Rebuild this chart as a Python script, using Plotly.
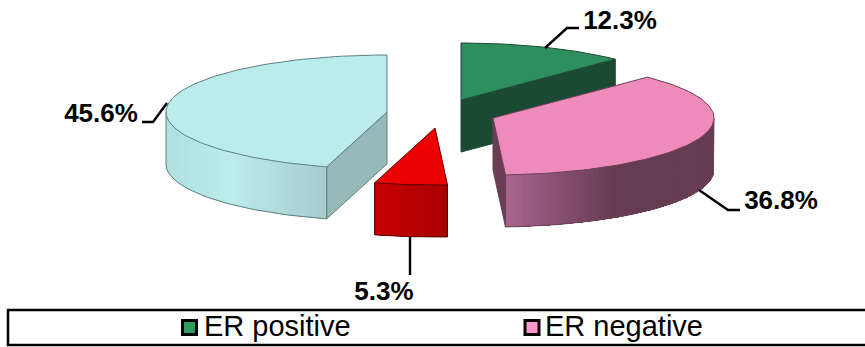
import numpy as np
import plotly.graph_objects as go

W, H = 865, 347

# Chart data
shares = [12.3, 36.8, 5.3, 45.6]
legend_names = ["ER positive", "ER negative"]
legend_colors = ["#2e9963", "#ff99cc"]
legend_marker_x = [189.5, 532]
legend_text_x = [204, 545]

# Pie geometry, in page pixels
RX, RY, DEPTH = 221, 57, 52
slice_centers = [(461, 100), (493, 118), (435, 128), (387, 112)]
slice_styles = [
    dict(top="#2e8f5e", edge="#1f4a36", cut="#1a4a32", xs=[0, 1], rim=["#1a4a32", "#1a4a32"]),
    dict(top="#ee8bbb", edge="#6b4058", cut="#6a3d55", xs=[0, 0.52, 1],
         rim=["#aa648c", "#663c52", "#663c52"]),
    dict(top="#ee0000", edge="#5a0000", cut="#aa0000", xs=[0, 1], rim=["#c80000", "#a80000"]),
    dict(top="#bbecec", edge="#5f7f80", cut="#97bab8", xs=[0, 0.4, 1],
         rim=["#aee0e0", "#bbecec", "#a6cccc"]),
]

# Leader lines and label anchors
leaders = [
    ([545, 567, 579], [48, 28, 28]),
    ([699, 728, 740], [190, 210, 210]),
    ([410, 410], [237, 275]),
    ([167, 153, 142], [103, 122, 122]),
]
label_positions = [(620, 22), (781, 202), (384, 293), (101, 115)]


def hex_rgb(c):
    return np.array([int(c[i:i + 2], 16) for i in (1, 3, 5)], float)


def blend(stops_x, stops_c, t):
    rgb = [np.interp(t, stops_x, [hex_rgb(c)[k] for c in stops_c]) for k in range(3)]
    return "rgb({:.0f},{:.0f},{:.0f})".format(*rgb)


def rim_point(center, deg):
    a = np.radians(deg)
    return center[0] + RX * np.sin(a), center[1] - RY * np.cos(a)


def poly(fig, xs, ys, fill, line=None, width=1):
    fig.add_trace(go.Scatter(
        x=list(xs), y=list(ys), mode="lines", fill="toself", fillcolor=fill,
        line=dict(color=line or fill, width=width if line else 0),
        showlegend=False, hoverinfo="skip",
    ))


def stroke(fig, xs, ys, color, width=1):
    fig.add_trace(go.Scatter(x=list(xs), y=list(ys), mode="lines",
                             line=dict(color=color, width=width),
                             showlegend=False, hoverinfo="skip"))


def draw_slice(fig, center, start, end, style):
    cx, cy = center
    # Radial cut faces turned towards the viewer
    faces = []
    if np.sin(np.radians(start)) < -1e-6:
        faces.append(start)
    if np.cos(np.radians(end + 90)) < -1e-6:
        faces.append(end)
    for deg in faces:
        px, py = rim_point(center, deg)
        poly(fig, [cx, px, px, cx, cx], [cy, py, py + DEPTH, cy + DEPTH, cy],
             style["cut"], style["edge"])

    # Curved rim: only the front half of the ellipse shows.
    # Each band runs to the far end so the next band paints over its tail.
    lo, hi = max(start, 90), min(end, 270)
    if hi > lo:
        angles = np.linspace(lo, hi, int((hi - lo) / 1.5) + 2)
        pts = np.array([rim_point(center, a) for a in angles])
        x0, x1 = pts[:, 0].min(), pts[:, 0].max()
        for i in range(len(angles) - 1):
            t = ((pts[i, 0] + pts[i + 1, 0]) / 2 - x0) / max(x1 - x0, 1)
            tail = pts[i:]
            poly(fig, np.r_[tail[:, 0], tail[::-1, 0]],
                 np.r_[tail[:, 1], tail[::-1, 1] + DEPTH],
                 blend(style["xs"], style["rim"], t))
        stroke(fig, np.r_[pts[0, 0], pts[:, 0], pts[-1, 0]],
               np.r_[pts[0, 1], pts[:, 1] + DEPTH, pts[-1, 1]], style["edge"])

    # Top face
    angles = np.linspace(start, end, int((end - start) / 1.5) + 2)
    pts = np.array([rim_point(center, a) for a in angles])
    poly(fig, np.r_[cx, pts[:, 0], cx], np.r_[cy, pts[:, 1], cy],
         style["top"], style["edge"], 1)


fig = go.Figure()

edges = np.r_[0, np.cumsum(shares)] / sum(shares) * 360
spans = list(zip(edges[:-1], edges[1:]))
for idx in (0, 3, 2, 1):
    draw_slice(fig, slice_centers[idx], spans[idx][0], spans[idx][1], slice_styles[idx])

for lx, ly in leaders:
    stroke(fig, lx, ly, "black", 2.4)

fig.add_trace(go.Scatter(
    x=[p[0] for p in label_positions], y=[p[1] for p in label_positions],
    mode="text", text=[f"{v}%" for v in shares], textposition="middle center",
    textfont=dict(family="Liberation Sans", size=26, color="black", weight="bold"),
    showlegend=False, hoverinfo="skip"))

# Key along the bottom, inside a full-width frame
for name, color, mx, tx in zip(legend_names, legend_colors, legend_marker_x, legend_text_x):
    fig.add_trace(go.Scatter(
        x=[mx], y=[327.5], mode="markers", name=name, showlegend=False, hoverinfo="skip",
        marker=dict(symbol="square", size=14, color=color, line=dict(color="black", width=3)),
    ))
    fig.add_trace(go.Scatter(
        x=[tx], y=[328.5], mode="text", text=[name], textposition="middle right",
        textfont=dict(family="Liberation Sans", size=29, color="black"),
        showlegend=False, hoverinfo="skip"))

fig.update_layout(
    width=W, height=H, margin=dict(l=0, r=0, t=0, b=0, autoexpand=False),
    paper_bgcolor="white", plot_bgcolor="white", showlegend=False,
    xaxis=dict(range=[0, W], visible=False, fixedrange=True),
    yaxis=dict(range=[H, 0], visible=False, fixedrange=True),
    shapes=[dict(type="rect", xref="x", yref="y", x0=8, x1=872, y0=310, y1=345,
                 line=dict(color="black", width=2.5), layer="below")],
)

fig.write_html("out.html", config=dict(displayModeBar=False))
